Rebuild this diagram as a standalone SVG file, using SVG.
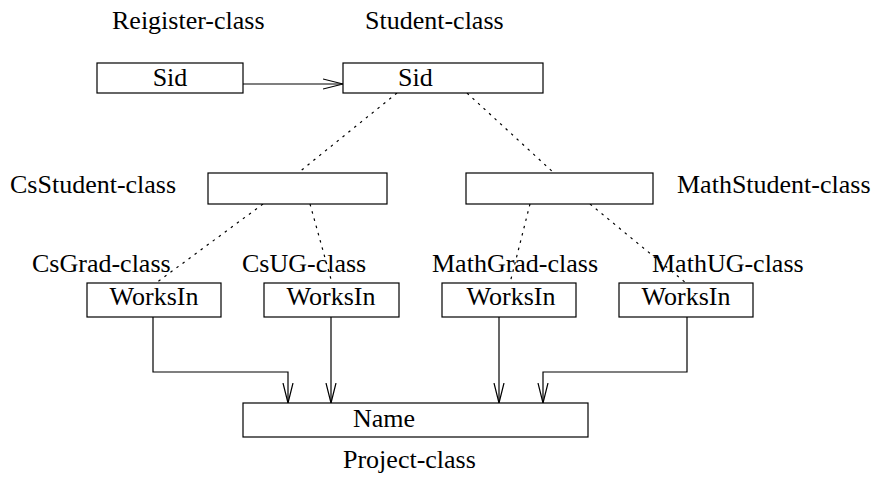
<svg xmlns="http://www.w3.org/2000/svg" width="877" height="478" viewBox="0 0 877 478">
<style>
.box{fill:#fff;stroke:#000;stroke-width:1.2}
.t{font-family:"Liberation Serif","Times New Roman",serif;font-size:26px;fill:#000}
.c{fill:none;stroke:#000;stroke-width:1.2}
.d{fill:none;stroke:#000;stroke-width:1.2;stroke-dasharray:2.5 5}
</style>
<defs>
<marker id="ah" markerUnits="userSpaceOnUse" markerWidth="24" markerHeight="14" refX="20" refY="6" orient="auto" viewBox="0 0 24 12">
<path d="M0,1 L20,6 L0,11" fill="none" stroke="#000" stroke-width="1.2"/>
</marker>
</defs>
<rect width="877" height="478" fill="#fff"/>
<g id="connectors">
<path class="c" d="M243,84 H343" marker-end="url(#ah)"/>
<path class="c" d="M153,317 V372 H288 V403" marker-end="url(#ah)"/>
<path class="c" d="M331,317 V403" marker-end="url(#ah)"/>
<path class="c" d="M499,317 V403" marker-end="url(#ah)"/>
<path class="c" d="M687,317 V372 H543 V403" marker-end="url(#ah)"/>
<path class="d" d="M397,93 L298,173"/>
<path class="d" d="M467,93 L554,173"/>
<path class="d" d="M263,204 L156,283"/>
<path class="d" d="M310,204 L332,283"/>
<path class="d" d="M530,204 L510,283"/>
<path class="d" d="M590,204 L686,283"/>
</g>
<g id="register">
<text class="t" x="112" y="29">Reigister-class</text>
<rect class="box" x="97" y="63" width="146" height="30"/>
<text class="t" x="170" y="86" text-anchor="middle">Sid</text>
</g>
<g id="student">
<text class="t" x="365" y="29">Student-class</text>
<rect class="box" x="343" y="63" width="200" height="30"/>
<text class="t" x="398" y="86">Sid</text>
</g>
<g id="csstudent">
<text class="t" x="10" y="193">CsStudent-class</text>
<rect class="box" x="208" y="173" width="179" height="31"/>
</g>
<g id="mathstudent">
<rect class="box" x="466" y="173" width="187" height="31"/>
<text class="t" x="677" y="193">MathStudent-class</text>
</g>
<g id="csgrad">
<text class="t" x="32" y="272">CsGrad-class</text>
<rect class="box" x="87" y="283" width="134" height="34"/>
<text class="t" x="154" y="305" text-anchor="middle">WorksIn</text>
</g>
<g id="csug">
<text class="t" x="242" y="272">CsUG-class</text>
<rect class="box" x="264" y="283" width="135" height="34"/>
<text class="t" x="331" y="305" text-anchor="middle">WorksIn</text>
</g>
<g id="mathgrad">
<text class="t" x="432" y="272">MathGrad-class</text>
<rect class="box" x="442" y="283" width="134" height="34"/>
<text class="t" x="511" y="305" text-anchor="middle">WorksIn</text>
</g>
<g id="mathug">
<text class="t" x="652" y="272">MathUG-class</text>
<rect class="box" x="619" y="283" width="134" height="34"/>
<text class="t" x="686" y="305" text-anchor="middle">WorksIn</text>
</g>
<g id="project">
<rect class="box" x="243" y="403" width="345" height="34"/>
<text class="t" x="353" y="427">Name</text>
<text class="t" x="343" y="468">Project-class</text>
</g>
</svg>
